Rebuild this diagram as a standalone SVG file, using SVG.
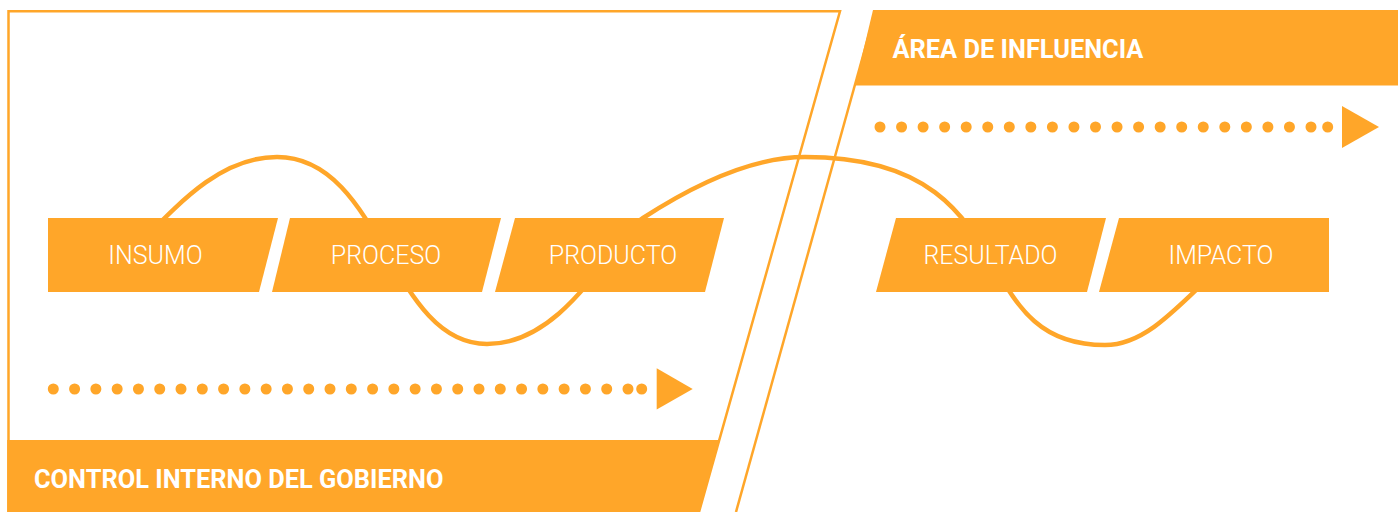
<svg xmlns="http://www.w3.org/2000/svg" width="1398" height="512" viewBox="0 0 1398 512">
<style>
.fill{fill:#FFA629}
.edge{fill:none;stroke:#FFA629;stroke-width:2.5}
.wave{fill:none;stroke:#FFA629;stroke-width:4.5;stroke-linecap:round}
.dots{fill:none;stroke:#FFA629;stroke-width:11;stroke-linecap:round}
.lbl{font-family:Roboto,"Liberation Sans",sans-serif;font-size:25px;font-weight:300;fill:#FFFFFF;text-anchor:middle}
.title{font-family:Roboto,"Liberation Sans",sans-serif;font-size:25.4px;font-weight:700;fill:#FFFFFF}
</style>
<rect width="1398" height="512" fill="#FFFFFF"/>
<g id="panel-control">
<polyline class="edge" points="8.5,512 8.5,11.3 840,11.3 699,512"/>
<polygon class="fill" points="7.2,440 719.5,440 699.5,512 7.2,512"/>
<text class="title" x="34" y="488">CONTROL INTERNO DEL GOBIERNO</text>
</g>
<g id="panel-influencia">
<line class="edge" x1="875.5" y1="11" x2="736" y2="512"/>
<polygon class="fill" points="873,10 1398,10 1398,85.5 855,85.5"/>
<text class="title" x="892.5" y="58">ÁREA DE INFLUENCIA</text>
</g>
<g id="connectors">
<path class="wave" d="M138 245 C182 200 222 157 277 157 C382 157 390 344 487 344 C567 344 613 237.5 643 218 C683 192 745 157 805 157 C1030 157 960 345 1105 345 C1145 345 1175 310 1225 262"/>
<line class="dots" x1="53.3" y1="389" x2="628" y2="389" stroke-dasharray="0 21.285"/>
<circle class="fill" cx="641.7" cy="389" r="5.5"/>
<polygon class="fill" points="656.7,368.3 692.7,389 656.7,409.5"/>
<line class="dots" x1="880" y1="127" x2="1311" y2="127" stroke-dasharray="0 21.55"/>
<circle class="fill" cx="1327.7" cy="127" r="5.5"/>
<polygon class="fill" points="1342,106 1379,127 1342,148"/>
</g>
<g id="node-insumo">
<polygon class="fill" points="48,218 278,218 259,292 48,292"/>
<text class="lbl" x="155.5" y="263.5">INSUMO</text>
</g>
<g id="node-proceso">
<polygon class="fill" points="290,218 501,218 482,292 272,292"/>
<text class="lbl" x="386" y="263.5">PROCESO</text>
</g>
<g id="node-producto">
<polygon class="fill" points="515,218 724,218 705,292 495,292"/>
<text class="lbl" x="613" y="263.5">PRODUCTO</text>
</g>
<g id="node-resultado">
<polygon class="fill" points="896,218 1106,218 1087,292 876,292"/>
<text class="lbl" x="990.5" y="263.5">RESULTADO</text>
</g>
<g id="node-impacto">
<polygon class="fill" points="1119,218 1329,218 1329,292 1099,292"/>
<text class="lbl" x="1221" y="263.5">IMPACTO</text>
</g>
</svg>
